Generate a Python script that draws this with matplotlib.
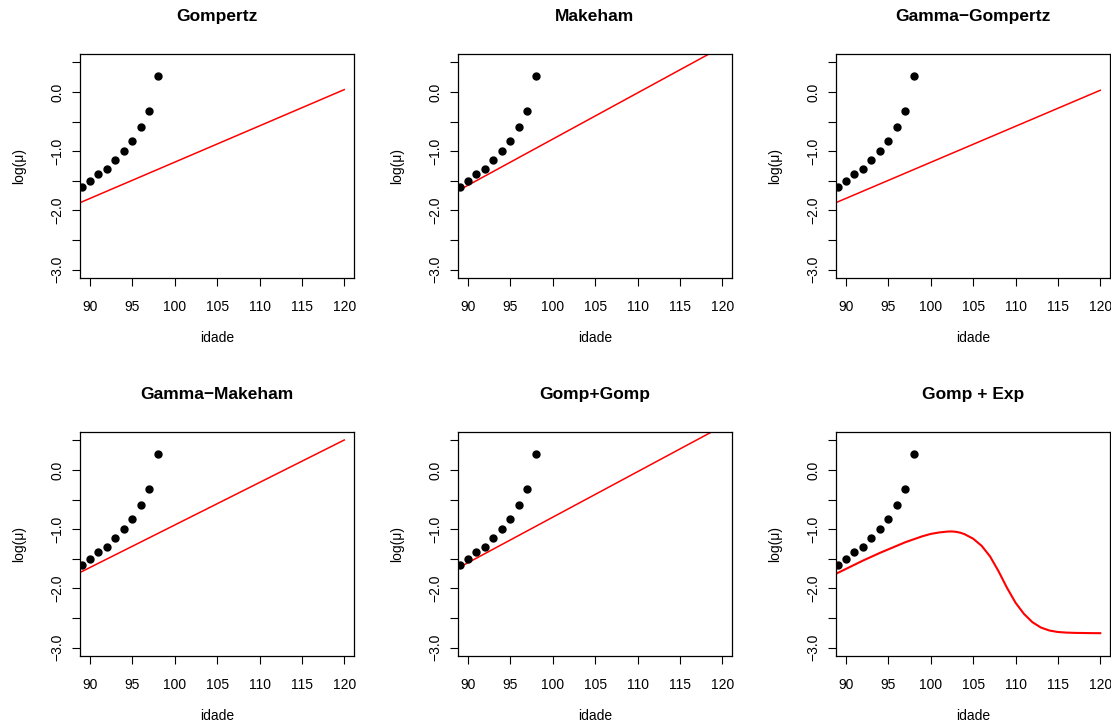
import matplotlib
matplotlib.use("Agg")
import matplotlib.pyplot as plt
from matplotlib.ticker import FixedLocator, FuncFormatter

plt.rcParams['font.family'] = ['Liberation Sans', 'DejaVu Sans']

# observed log mortality
idade = [89, 90, 91, 92, 93, 94, 95, 96, 97, 98]
log_mu = [-1.61, -1.51, -1.385, -1.30, -1.155, -0.998, -0.83, -0.594, -0.32, 0.275]

# fitted lines (log scale), values at ages 89 and 120
idade_fit = [89, 120]
fit_gompertz = [-1.858, 0.039]
fit_makeham = [-1.653, 0.762]
fit_gamma_gompertz = [-1.857, 0.028]
fit_gamma_makeham = [-1.718, 0.505]
fit_gomp_gomp = [-1.642, 0.737]

# Gomp + Exp fitted curve
idade_curve = [89, 90, 91, 92, 93, 94, 95, 96, 97, 98, 99, 100, 101, 102, 102.5,
               103, 103.5, 104, 105, 106, 107, 108, 109, 110, 111, 112, 113,
               114, 115, 116, 117, 118, 119, 120]
fit_gomp_exp = [-1.74, -1.67, -1.60, -1.53, -1.465, -1.40, -1.34, -1.28, -1.22,
                -1.17, -1.12, -1.08, -1.055, -1.04, -1.038, -1.045, -1.06, -1.085,
                -1.16, -1.28, -1.46, -1.71, -1.99, -2.24, -2.43, -2.57, -2.66,
                -2.71, -2.735, -2.745, -2.75, -2.752, -2.754, -2.755]

titulos = ["Gompertz", "Makeham", "Gamma\u2212Gompertz",
           "Gamma\u2212Makeham", "Gomp+Gomp", "Gomp + Exp"]
ajustes = [(idade_fit, fit_gompertz), (idade_fit, fit_makeham),
           (idade_fit, fit_gamma_gompertz), (idade_fit, fit_gamma_makeham),
           (idade_fit, fit_gomp_gomp), (idade_curve, fit_gomp_exp)]

W, H = 1111, 720
fig = plt.figure(figsize=(W / 100, H / 100), dpi=100)

lefts = [80, 458, 836]
tops = [54, 432]
aw, ah = 274, 224

for k in range(6):
    r, c = divmod(k, 3)
    ax = fig.add_axes([lefts[c] / W, 1 - (tops[r] + ah) / H, aw / W, ah / H])
    xs, ys = ajustes[k]
    lw = 1.5 if k == 5 else 1.1
    ax.plot(xs, ys, color="#FF0000", lw=lw)
    ax.plot(idade, log_mu, "o", color="black", ms=5.0, clip_on=True)
    ax.set_xlim(88.82, 121.15)
    ax.set_ylim(-3.14, 0.64)
    ax.xaxis.set_major_locator(FixedLocator([90, 95, 100, 105, 110, 115, 120]))
    ax.yaxis.set_major_locator(FixedLocator([-3, -2.5, -2, -1.5, -1, -0.5, 0, 0.5]))
    ax.yaxis.set_major_formatter(FuncFormatter(
        lambda v, p: ("%.1f" % v).replace("-", "\u2212") if abs(v - round(v)) < 1e-9 and v < 0.4 else ""))
    ax.tick_params(direction="out", length=5.5, width=0.8, labelsize=10, color="black")
    ax.tick_params(axis="x", pad=10)
    ax.tick_params(axis="y", pad=6)
    for lab in ax.get_yticklabels():
        lab.set_rotation(90)
        lab.set_va("center")
    for s in ax.spines.values():
        s.set_linewidth(0.9)
    ax.set_xlabel("idade", fontsize=10, labelpad=12.5)
    ax.set_ylabel("log(\u03bc)", fontsize=10, labelpad=17)
    ax.set_title(titulos[k], fontsize=12.5, fontweight="bold", pad=24)

fig.savefig("out.png", dpi=100)
